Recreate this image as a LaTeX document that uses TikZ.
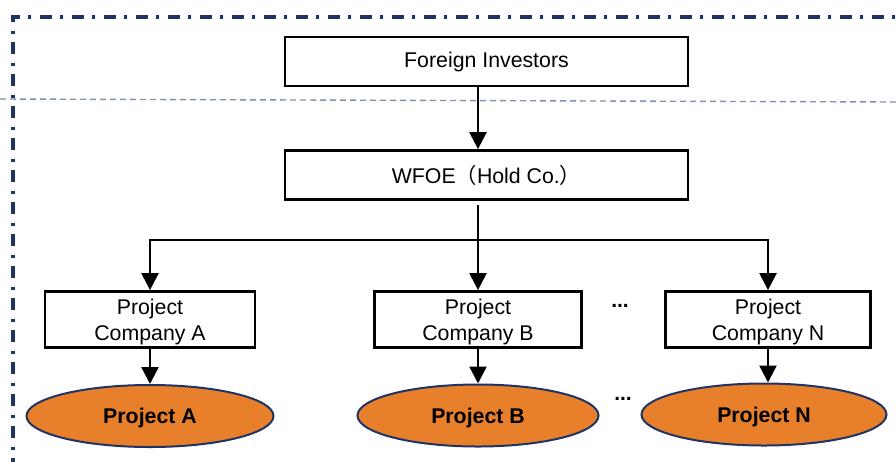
\documentclass[tikz,border=0pt]{standalone}
\usepackage{fontspec}
\setmainfont{Liberation Sans}
\newfontfamily\cjk{Noto Sans CJK SC}
\usepackage{tikz}
\usetikzlibrary{arrows.meta,shapes,calc}
\definecolor{navy}{HTML}{1F3465}
\definecolor{dashgrey}{HTML}{8090B4}
\definecolor{projorange}{HTML}{E8802B}
\tikzstyle{edge}=[-{Triangle[width=17pt,length=17pt]}, line width=2.4pt]
\tikzstyle{plain}=[line width=2.4pt]
\tikzstyle{box}=[rectangle, draw, line width=2.8pt, inner sep=0pt, font=\fontsize{21.3}{26}\selectfont, align=center]
\tikzstyle{proj}=[ellipse, draw=navy, fill=projorange, line width=2pt, inner sep=0pt, text height=15.3pt, text depth=0pt, font=\fontsize{21.3}{24}\selectfont\bfseries]

\begin{document}
\begin{tikzpicture}[x=1pt, y=-1pt]
      \useasboundingbox (0,0) rectangle (896,461);
      % frame
      \draw[navy, line width=3.4pt, dash pattern=on 12pt off 8pt on 3pt off 9pt] (13,470) -- (13,17) -- (900,17);
      \draw[dashgrey, line width=1.4pt, dash pattern=on 6pt off 4pt] (0,99) -- (896,102);
      % boxes
      \node(fi) [box, minimum width=403pt, minimum height=49pt] at (486.5, 61.5){Foreign Investors};
      \node(wfoe) [box, minimum width=403pt, minimum height=49pt] at (486.5, 175){WFOE{\cjk （}Hold Co.{\cjk ）}};
      \node(pcA) [box, text depth=0pt, minimum width=210pt, minimum height=56pt] at (150, 319.5){Project\\Company A};
      \node(pcB) [box, text depth=0pt, minimum width=207pt, minimum height=56pt] at (478, 319.5){Project\\Company B};
      \node(pcN) [box, text depth=0pt, minimum width=205pt, minimum height=56pt] at (768, 319.5){Project\\Company N};
      \node(pA) [proj, minimum width=247pt, minimum height=62pt] at (150, 416){Project A};
      \node(pB) [proj, minimum width=241pt, minimum height=62pt] at (478, 415.5){Project B};
      \node(pN) [proj, minimum width=245pt, minimum height=62pt] at (764, 414.5){Project N};
      \node(dots1) [font=\fontsize{21}{24}\selectfont\bfseries] at (620, 306){...};
      \node(dots2) [font=\fontsize{21}{24}\selectfont\bfseries] at (623, 399){...};
      \coordinate(split) at (478, 240);
      % connectors
      \draw[edge] (fi.south -| split) -- (wfoe.north -| split);
      \draw[plain] ($(wfoe.south -| split)+(0,4)$) -- (split);
      \draw[edge] (split) -| (pcA);
      \draw[edge] (split) -- (pcB);
      \draw[edge] (split) -| (pcN);
      \draw[edge] (pcA) -- (pA);
      \draw[edge] (pcB) -- (pB);
      \draw[edge] (pcN.south) -- (pcN.south |- pN.north);
\end{tikzpicture}
\end{document}
